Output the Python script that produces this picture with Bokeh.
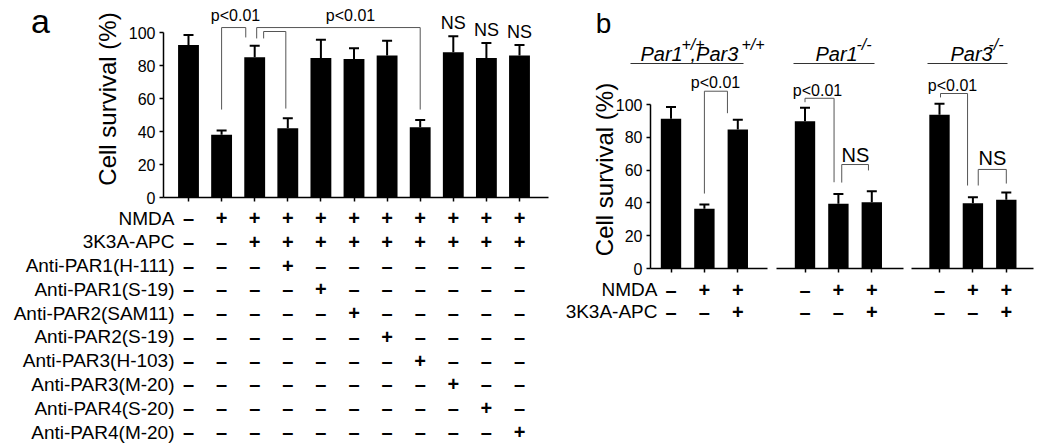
from bokeh.plotting import figure
from bokeh.layouts import row, column
from bokeh.models import Range1d, FixedTicker, ColumnDataSource, Whisker, TeeHead
from bokeh.core.properties import value
from bokeh.embed import file_html
from bokeh.resources import INLINE

FONT = "Liberation Sans"
GRAY = "#555555"
MID = 0.3465  # distance (em) from the alphabetic baseline to the text box middle

# ---------------- data ----------------
y_ticks = [0, 20, 40, 60, 80, 100]

# panel a
a_survival = [92.5, 38.0, 85.0, 42.0, 84.6, 84.0, 86.0, 42.6, 88.0, 84.6, 86.0]
a_error = [6.0, 2.6, 7.0, 6.0, 11.0, 6.5, 9.0, 4.3, 9.8, 9.0, 6.5]
a_row_labels = ["NMDA", "3K3A-APC", "Anti-PAR1(H-111)", "Anti-PAR1(S-19)",
                "Anti-PAR2(SAM11)", "Anti-PAR2(S-19)", "Anti-PAR3(H-103)",
                "Anti-PAR3(M-20)", "Anti-PAR4(S-20)", "Anti-PAR4(M-20)"]
a_signs = ["-++++++++++",
           "--+++++++++",
           "---+-------",
           "----+------",
           "-----+-----",
           "------+----",
           "-------+---",
           "--------+--",
           "---------+-",
           "----------+"]
a_ns_bars = [9, 10, 11]

# panel b
b_survival_wt = [91.3, 36.4, 84.8]
b_error_wt = [7.1, 2.6, 5.9]
b_survival_par1 = [89.8, 39.5, 40.4]
b_error_par1 = [8.2, 6.0, 6.7]
b_survival_par3 = [93.7, 39.8, 41.9]
b_error_par3 = [6.7, 3.7, 4.4]
b_row_labels = ["NMDA", "3K3A-APC"]
b_signs = ["-++", "--+"]
b_genotypes = [[("Par1", "base"), ("+/+", "sup"), (",Par3", "base"), ("+/+", "sup")],
               [("Par1", "base"), ("-/-", "sup")],
               [("Par3", "base"), ("-/-", "sup")]]


# ---------------- helpers ----------------
def px_map(c1, step, zero_py, unit):
    return (lambda px: 1 + (px - c1) / step), (lambda py: (zero_py - py) / unit)


def blank_fig(width, height, xr, yr):
    p = figure(width=width, height=height, x_range=xr, y_range=yr,
               output_backend="svg", toolbar_location=None,
               min_border_left=0, min_border_right=0, min_border_top=0, min_border_bottom=0,
               x_axis_location=None, y_axis_location=None)
    p.outline_line_color = None
    p.grid.visible = False
    p.background_fill_color = "white"
    p.border_fill_color = "white"
    return p


def bar_fig(width, height, xr, yr, border_l, border_r, border_b, y_axis):
    p = figure(width=width, height=height, x_range=xr, y_range=yr,
               output_backend="svg", toolbar_location=None,
               min_border_left=border_l, min_border_right=border_r,
               min_border_top=0, min_border_bottom=border_b,
               y_axis_location="left" if y_axis else None)
    p.outline_line_color = None
    p.grid.visible = False
    p.background_fill_color = "white"
    p.border_fill_color = "white"
    return p


def style_xaxis(p, n):
    ax = p.xaxis[0]
    ax.ticker = FixedTicker(ticks=list(range(1, n + 1)))
    ax.major_label_overrides = {i: "" for i in range(1, n + 1)}
    ax.major_label_text_font_size = "0px"
    ax.major_label_standoff = 0
    ax.major_tick_out = 4
    ax.major_tick_in = 0
    ax.minor_tick_out = 0
    ax.minor_tick_in = 0
    ax.axis_line_width = 1.5
    ax.major_tick_line_width = 1.5
    ax.axis_line_color = "black"
    ax.major_tick_line_color = "black"


def style_yaxis(p, standoff, tick_standoff):
    ax = p.yaxis[0]
    ax.bounds = (0, 100)
    ax.ticker = FixedTicker(ticks=y_ticks)
    ax.major_tick_out = 4
    ax.major_tick_in = 0
    ax.minor_tick_out = 0
    ax.minor_tick_in = 0
    ax.axis_line_width = 1.5
    ax.major_tick_line_width = 1.5
    ax.axis_line_color = "black"
    ax.major_tick_line_color = "black"
    ax.major_label_standoff = tick_standoff
    ax.major_label_text_font = FONT
    ax.major_label_text_font_size = "16px"
    ax.major_label_text_color = "black"
    ax.axis_label = "Cell survival (%)"
    ax.axis_label_text_font = FONT
    ax.axis_label_text_font_size = "24px"
    ax.axis_label_text_font_style = "normal"
    ax.axis_label_text_color = "black"
    ax.axis_label_standoff = standoff


def draw_bars(p, vals, errs, width):
    pos = list(range(1, len(vals) + 1))
    src = ColumnDataSource(dict(x=pos, top=vals, upper=[v + e for v, e in zip(vals, errs)]))
    p.vbar(x="x", top="top", width=width, source=src, fill_color="black", line_color=None)
    p.add_layout(Whisker(source=src, base="x", lower="top", upper="upper",
                         line_color="black", line_width=2,
                         upper_head=TeeHead(size=10, line_color="black", line_width=2),
                         lower_head=None))


def draw_brackets(p, brackets):
    xs = [[xl, xl, xr, xr] for (xl, yl, xr, yr, top) in brackets]
    ys = [[yl, top, top, yr] for (xl, yl, xr, yr, top) in brackets]
    p.multi_line(xs, ys, line_color=GRAY, line_width=1)


def add_text(p, xs, ys, texts, size, align="center", style="normal"):
    p.text(x=xs, y=ys, text=texts, text_font=value(FONT), text_font_size=value(size),
           text_align=align, text_baseline="middle", text_font_style=style,
           text_color="black")


def draw_signs(p, signs, row_ys, col_offset=0.0):
    xs, ys, ts = [], [], []
    for r, s in enumerate(signs):
        for c, ch in enumerate(s):
            xs.append(c + 1 + col_offset)
            ys.append(row_ys[r])
            ts.append("\u2013" if ch == "-" else "+")
    add_text(p, xs, ys, ts, "20px", style="bold")


# ---------------- panel a ----------------
STEP_A = 33.1
fxA, fyA = px_map(188, STEP_A, 197, 1.65)

# letter (baseline at 33 px, 34 px font)
la = blank_fig(60, 206, Range1d(0, 60), Range1d(206, 0))
add_text(la, [40], [33 - MID * 34], ["a"], "34px")

# bars
pa = bar_fig(500, 206, Range1d(fxA(163), fxA(548)), Range1d(0, fyA(0)), 103, 12, 9, True)
style_xaxis(pa, len(a_survival))
style_yaxis(pa, 5, 4)
draw_bars(pa, a_survival, a_error, 0.63)
draw_brackets(pa, [
    (2, 53.3, 2.73, 97.0, 103.0),
    (3.06, 96.4, 8, 53.3, 103.0),
    (3.27, 96.4, 3.94, 53.9, 100.6),
])
add_text(pa, [fxA(235), fxA(350)], [fyA(15), fyA(15)], ["p<0.01", "p<0.01"], "16px")
add_text(pa, a_ns_bars, [a_survival[b - 1] + a_error[b - 1] + 8 for b in a_ns_bars],
         ["NS"] * len(a_ns_bars), "18px")

# table
ROW_A0, ROW_A_STEP = 217.5, 23.78
ta = blank_fig(560, 237, Range1d(fxA(0), fxA(560)),
               Range1d((443 - ROW_A0) / ROW_A_STEP, (206 - ROW_A0) / ROW_A_STEP))
rows_a = list(range(len(a_row_labels)))
add_text(ta, [fxA(174)] * len(a_row_labels), rows_a, a_row_labels, "19px", align="right")
draw_signs(ta, a_signs, rows_a)

# ---------------- panel b ----------------
STEP_B = 33.4
fx1, fyB = px_map(670.5, STEP_B, 268, 1.64)

# header with panel letter and genotype labels
hb = blank_fig(490, 70, Range1d(fx1(560), fx1(1050)), Range1d(fyB(70), fyB(0)))
add_text(hb, [fx1(603)], [fyB(33 - MID * 28)], ["b"], "28px")
b_geno_px = [[640, 681, 690, 741], [815, 856], [950, 988]]
b_underline_px = [(630, 743), (793, 874), (927, 1007)]
for k in range(3):
    for (piece, kind), px in zip(b_genotypes[k], b_geno_px[k]):
        if kind == "base":
            add_text(hb, [fx1(px)], [fyB(60 - MID * 20)], [piece], "20px",
                     align="left", style="italic")
        else:
            add_text(hb, [fx1(px)], [fyB(50 - MID * 16)], [piece], "16px",
                     align="left", style="italic")
    u0, u1 = b_underline_px[k]
    hb.segment(x0=[fx1(u0)], y0=[fyB(63)], x1=[fx1(u1)], y1=[fyB(63)],
               line_color="#333333", line_width=1)

# bar sub-panels
b_specs = [
    # fig width, frame l, frame r, first bar px, border l, border r, y axis
    (211, 650, 767, 670.5, 90, 4, True),
    (136, 776, 903, 804.5, 5, 4, False),
    (143, 911, 1033, 939.0, 4, 17, False),
]
b_data = [(b_survival_wt, b_error_wt), (b_survival_par1, b_error_par1),
          (b_survival_par3, b_error_par3)]
b_brackets = [
    [(2.0, 45.7, 2.69, 94.7, 108.1)],
    [(1.0, 101.4, 1.87, 52.6, 103.8), (2.1, 52.4, 2.9, 59.8, 63.4)],
    [(1.03, 104.3, 1.84, 50.6, 106.7), (2.16, 50.6, 3.0, 51.8, 60.4)],
]
b_texts = [
    [(715, 82, "p<0.01", "16px")],
    [(817, 90, "p<0.01", "16px"), (855, 154, "NS", "20px")],
    [(952, 85, "p<0.01", "16px"), (992, 157, "NS", "20px")],
]
figs_b = []
offsets = []
for k, (w, fl, fr, c1, bl, br, yax) in enumerate(b_specs):
    fx, _ = px_map(c1, STEP_B, 268, 1.64)
    offsets.append((c1 - 670.5) / STEP_B)
    p = bar_fig(w, 207, Range1d(fx(fl), fx(fr)), Range1d(0, fyB(70)), bl, br, 9, yax)
    style_xaxis(p, 3)
    if yax:
        style_yaxis(p, -5, 4)
    vals, errs = b_data[k]
    draw_bars(p, vals, errs, 0.61)
    draw_brackets(p, b_brackets[k])
    for (tx, ty, t, sz) in b_texts[k]:
        add_text(p, [fx(tx)], [fyB(ty)], [t], sz)
    figs_b.append(p)

# table for panel b
tb = blank_fig(490, 166, Range1d(fx1(560), fx1(1050)), Range1d(fyB(443), fyB(277)))
rows_b = [fyB(289), fyB(311)]
add_text(tb, [fx1(657)] * len(b_row_labels), rows_b, b_row_labels, "19px", align="right")
for off in offsets:
    draw_signs(tb, b_signs, rows_b, off)

left = column(row(la, pa), ta)
right = column(hb, row(*figs_b), tb)
layout = row(left, right)
open("out.html", "w").write(file_html(layout, INLINE))
